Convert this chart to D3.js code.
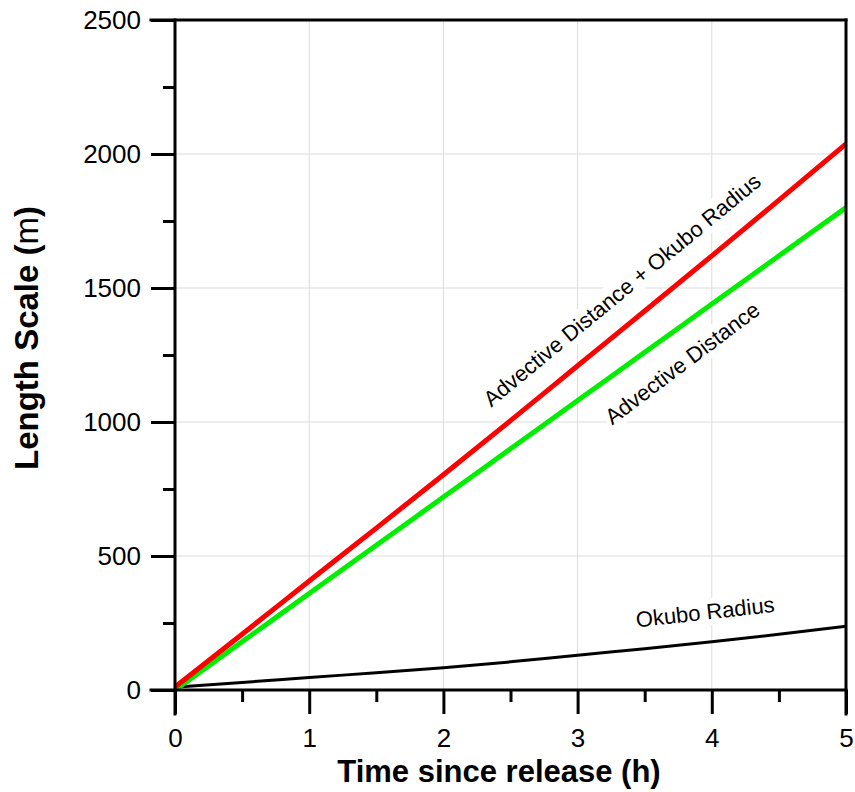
<!DOCTYPE html>
<html>
<head>
<meta charset="utf-8">
<script src="https://cdn.jsdelivr.net/npm/d3@7"></script>
<style>
  html, body { margin: 0; padding: 0; background: #fff; }
  svg { display: block; font-family: "Liberation Sans", Arial, Helvetica, sans-serif; }
</style>
</head>
<body>
<svg id="chart" width="855" height="792"></svg>
<script>
// Time since release (h)
const hours = [0, 0.5, 1, 1.5, 2, 2.5, 3, 3.5, 4, 4.5, 5];
// Okubo radius (m)
const okuboRadius = [11, 28, 47, 64, 83, 105, 130, 154, 180, 208, 238];
// Advective distance (m)
const advectiveDistance = [0, 180, 360, 540, 720, 900, 1080, 1260, 1440, 1620, 1800];
// Advective distance + Okubo radius (m)
const advectivePlusOkubo = [11, 208, 407, 604, 803, 1005, 1210, 1414, 1620, 1828, 2038];

const xMajorTicks = [0, 1, 2, 3, 4, 5];
const xMinorTicks = [0.5, 1.5, 2.5, 3.5, 4.5];
const yMajorTicks = [0, 500, 1000, 1500, 2000, 2500];
const yMinorTicks = [250, 750, 1250, 1750, 2250];

const svg = d3.select("#chart");
const plotL = 175, plotR = 846, plotT = 20, plotB = 690;

const x = d3.scaleLinear().domain([0, 5]).range([plotL, plotR]);
const y = d3.scaleLinear().domain([0, 2500]).range([plotB, plotT]);

// grid
const grid = svg.append("g").attr("stroke", "#dcdcdc").attr("stroke-width", 1);
grid.selectAll("line.gx").data(xMajorTicks.slice(1, -1)).join("line")
  .attr("x1", d => x(d)).attr("x2", d => x(d)).attr("y1", plotT).attr("y2", plotB);
grid.selectAll("line.gy").data(yMajorTicks.slice(1, -1)).join("line")
  .attr("y1", d => y(d)).attr("y2", d => y(d)).attr("x1", plotL).attr("x2", plotR);

// series
const rows = hours.map((t, i) => ({ t, ok: okuboRadius[i], adv: advectiveDistance[i], sum: advectivePlusOkubo[i] }));
const lineOf = key => d3.line().x(d => x(d.t)).y(d => y(d[key])).curve(d3.curveMonotoneX);

svg.append("path").datum(rows).attr("d", lineOf("ok"))
  .attr("fill", "none").attr("stroke", "#000").attr("stroke-width", 3);
svg.append("path").datum(rows).attr("d", lineOf("adv"))
  .attr("fill", "none").attr("stroke", "#00ee00").attr("stroke-width", 5);
svg.append("path").datum(rows).attr("d", lineOf("sum"))
  .attr("fill", "none").attr("stroke", "#ff0000").attr("stroke-width", 5);

// line labels on white boxes
const labels = [
  { text: "Advective Distance + Okubo Radius", t: 3.33, v: 1493, angle: -39.5 },
  { text: "Advective Distance", t: 3.78, v: 1220, angle: -37 },
  { text: "Okubo Radius", t: 3.95, v: 291, angle: -6.5 }
];
labels.forEach(l => {
  const g = svg.append("g")
    .attr("transform", `translate(${x(l.t)},${y(l.v)}) rotate(${l.angle})`);
  const rect = g.append("rect").attr("fill", "#fff");
  const txt = g.append("text")
    .attr("text-anchor", "middle").attr("dy", "0.35em")
    .attr("font-size", 22).attr("fill", "#000").text(l.text);
  const bb = txt.node().getBBox();
  rect.attr("x", bb.x - 2).attr("y", bb.y - 1).attr("width", bb.width + 4).attr("height", bb.height + 2);
});

// axes
const axisStyle = g => {
  g.select(".domain").remove();
  g.selectAll(".tick line").attr("stroke", "#000").attr("stroke-width", 3);
  g.selectAll(".tick text").attr("fill", "#000").attr("font-size", 26)
    .attr("font-family", "Liberation Sans, Arial, sans-serif");
};

svg.append("g").attr("transform", `translate(${plotL},0)`)
  .call(d3.axisLeft(y).tickValues(yMajorTicks).tickSize(24).tickPadding(10).tickFormat(d3.format("d")))
  .call(axisStyle);
svg.append("g").attr("transform", `translate(${plotL},0)`)
  .call(d3.axisLeft(y).tickValues(yMinorTicks).tickSize(12).tickFormat(""))
  .call(axisStyle);
svg.append("g").attr("transform", `translate(0,${plotB})`)
  .call(d3.axisBottom(x).tickValues(xMajorTicks).tickSize(24).tickPadding(15).tickFormat(d3.format("d")))
  .call(axisStyle);
svg.append("g").attr("transform", `translate(0,${plotB})`)
  .call(d3.axisBottom(x).tickValues(xMinorTicks).tickSize(12).tickFormat(""))
  .call(axisStyle);

// frame
const frame = svg.append("g").attr("stroke", "#000").attr("stroke-width", 3).attr("stroke-linecap", "square");
frame.append("line").attr("x1", plotL - 24).attr("x2", plotR).attr("y1", plotT).attr("y2", plotT);
frame.append("line").attr("x1", plotL - 24).attr("x2", plotR).attr("y1", plotB).attr("y2", plotB);
frame.append("line").attr("x1", plotL).attr("x2", plotL).attr("y1", plotT).attr("y2", plotB + 24);
frame.append("line").attr("x1", plotR).attr("x2", plotR).attr("y1", plotT).attr("y2", plotB + 24);

// axis titles
svg.append("text")
  .attr("x", 499).attr("y", 782)
  .attr("text-anchor", "middle").attr("font-size", 31).attr("font-weight", "bold")
  .text("Time since release (h)");

const yt = svg.append("text")
  .attr("transform", `translate(38,338) rotate(-90)`)
  .attr("text-anchor", "middle").attr("font-size", 33).attr("font-weight", "bold");
yt.append("tspan").text("Length Scale (");
yt.append("tspan").attr("font-weight", "normal").text("m");
yt.append("tspan").text(")");
</script>
</body>
</html>
